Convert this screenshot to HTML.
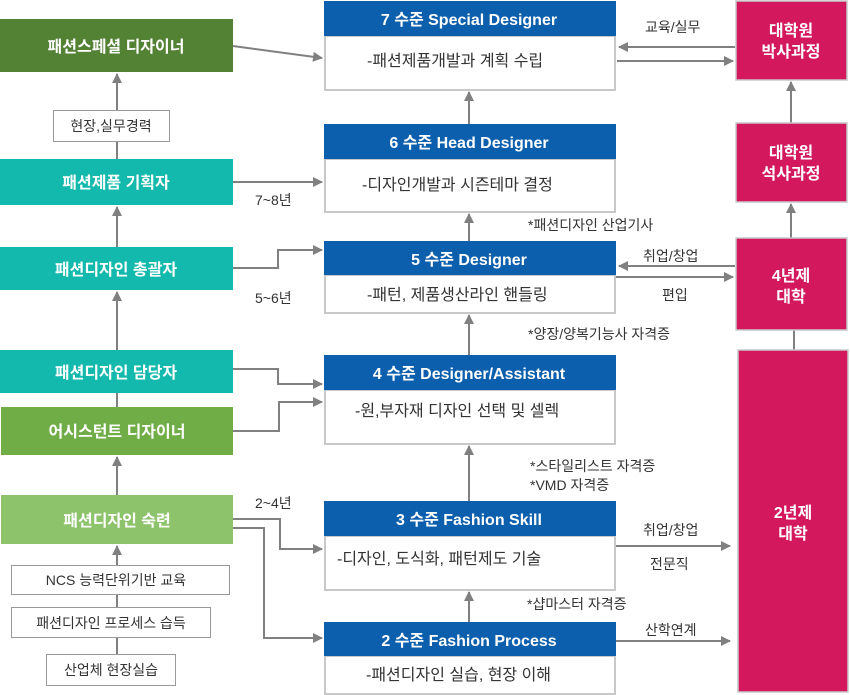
<!DOCTYPE html>
<html><head><meta charset="utf-8"><style>
html,body{margin:0;padding:0;background:#fff;}
svg{display:block;font-family:"Liberation Sans","Noto Sans CJK KR",sans-serif;}
</style></head><body>
<svg width="850" height="695" viewBox="0 0 850 695" xmlns="http://www.w3.org/2000/svg">
<defs><marker id="a" markerWidth="10" markerHeight="10" refX="9" refY="5" orient="auto" markerUnits="userSpaceOnUse"><path d="M0,0 L10,5 L0,10 z" fill="#808080"/></marker></defs>
<g stroke="#808080" stroke-width="2" fill="none">
<line x1="233" y1="46" x2="322" y2="58" marker-end="url(#a)"/>
<line x1="233" y1="182" x2="322" y2="182" marker-end="url(#a)"/>
<polyline points="233,268 278,268 278,250 322,250" marker-end="url(#a)"/>
<polyline points="233,369 278,369 278,384 322,384" marker-end="url(#a)"/>
<polyline points="233,431 279,431 279,402 322,402" marker-end="url(#a)"/>
<polyline points="233,519 280,519 280,549 322,549" marker-end="url(#a)"/>
<polyline points="233,528 264,528 264,638 322,638" marker-end="url(#a)"/>
<line x1="117" y1="110" x2="117" y2="74" marker-end="url(#a)"/>
<line x1="117" y1="141" x2="117" y2="159"/>
<line x1="117" y1="247" x2="117" y2="207" marker-end="url(#a)"/>
<line x1="117" y1="350" x2="117" y2="292" marker-end="url(#a)"/>
<line x1="117" y1="393" x2="117" y2="407"/>
<line x1="117" y1="495" x2="117" y2="457" marker-end="url(#a)"/>
<line x1="117" y1="565" x2="117" y2="546" marker-end="url(#a)"/>
<line x1="117" y1="594" x2="117" y2="607"/>
<line x1="117" y1="637" x2="117" y2="654"/>
<line x1="469" y1="124" x2="469" y2="92" marker-end="url(#a)"/>
<line x1="469" y1="241" x2="469" y2="214" marker-end="url(#a)"/>
<line x1="469" y1="355" x2="469" y2="315" marker-end="url(#a)"/>
<line x1="469" y1="501" x2="469" y2="446" marker-end="url(#a)"/>
<line x1="469" y1="622" x2="469" y2="592" marker-end="url(#a)"/>
<line x1="735" y1="47" x2="619" y2="47" marker-end="url(#a)"/>
<line x1="617" y1="61" x2="733" y2="61" marker-end="url(#a)"/>
<line x1="735" y1="266" x2="619" y2="266" marker-end="url(#a)"/>
<line x1="615" y1="277" x2="733" y2="277" marker-end="url(#a)"/>
<line x1="615" y1="546" x2="730" y2="546" marker-end="url(#a)"/>
<line x1="610" y1="641" x2="730" y2="641" marker-end="url(#a)"/>
<line x1="791" y1="123" x2="791" y2="82" marker-end="url(#a)"/>
<line x1="791" y1="238" x2="791" y2="204" marker-end="url(#a)"/>
<line x1="794" y1="330" x2="794" y2="350"/>
</g>
<g font-size="16" font-weight="bold" fill="#fff" text-anchor="middle">
<rect x="0" y="19" width="233" height="53" fill="#548235"/><text x="116" y="52">패션스페셜 디자이너</text>
<rect x="0" y="159" width="233" height="46" fill="#13B9AC"/><text x="116" y="188">패션제품 기획자</text>
<rect x="0" y="247" width="233" height="43" fill="#13B9AC"/><text x="116" y="275">패션디자인 총괄자</text>
<rect x="0" y="350" width="233" height="43" fill="#13B9AC"/><text x="116" y="378">패션디자인 담당자</text>
<rect x="1" y="407" width="232" height="48" fill="#70AD47"/><text x="117" y="437">어시스턴트 디자이너</text>
<rect x="1" y="495" width="232" height="49" fill="#8DC36B"/><text x="117" y="526">패션디자인 숙련</text>
</g>
<g font-size="14" fill="#333" text-anchor="middle" stroke-width="1">
<rect x="53.5" y="110.5" width="116" height="31" fill="#fff" stroke="#999"/><text x="111" y="131">현장,실무경력</text>
<rect x="11.5" y="565.5" width="218" height="29" fill="#fff" stroke="#999"/><text x="116" y="585">NCS 능력단위기반 교육</text>
<rect x="11.5" y="607.5" width="199" height="30" fill="#fff" stroke="#999"/><text x="111" y="628">패션디자인 프로세스 습득</text>
<rect x="46.5" y="654.5" width="129" height="31" fill="#fff" stroke="#999"/><text x="111" y="675">산업체 현장실습</text>
</g>
<g stroke="#c8c8c8" stroke-width="2" fill="#fff">
<rect x="325" y="36" width="290" height="54"/>
<rect x="325" y="159" width="290" height="53"/>
<rect x="325" y="275" width="290" height="38"/>
<rect x="325" y="390" width="290" height="54"/>
<rect x="325" y="536" width="290" height="54"/>
<rect x="325" y="656" width="290" height="38"/>
</g>
<g fill="#0C5FAD">
<rect x="324" y="1" width="292" height="35"/>
<rect x="324" y="124" width="292" height="35"/>
<rect x="324" y="241" width="292" height="34"/>
<rect x="324" y="355" width="292" height="35"/>
<rect x="324" y="501" width="292" height="35"/>
<rect x="324" y="622" width="292" height="34"/>
</g>
<g font-size="16" font-weight="bold" fill="#fff" text-anchor="middle">
<text x="469" y="25">7 수준 Special Designer</text>
<text x="469" y="148">6 수준 Head Designer</text>
<text x="469" y="265">5 수준 Designer</text>
<text x="469" y="379">4 수준 Designer/Assistant</text>
<text x="469" y="525">3 수준 Fashion  Skill</text>
<text x="469" y="646">2 수준  Fashion Process</text>
</g>
<g font-size="16" fill="#333">
<text x="367" y="66">-패션제품개발과  계획 수립</text>
<text x="362" y="190">-디자인개발과 시즌테마 결정</text>
<text x="367" y="300">-패턴, 제품생산라인 핸들링</text>
<text x="355" y="416">-원,부자재 디자인 선택 및 셀렉</text>
<text x="337" y="564">-디자인, 도식화, 패턴제도 기술</text>
<text x="366" y="680">-패션디자인 실습, 현장 이해</text>
</g>
<g fill="#D4185E" stroke="#c8c8c8" stroke-width="1.5">
<rect x="736" y="1" width="111" height="79"/>
<rect x="736" y="123" width="111" height="79"/>
<rect x="736" y="238" width="111" height="92"/>
<rect x="738" y="350" width="110" height="342"/>
</g>
<g font-size="16" font-weight="bold" fill="#fff" text-anchor="middle">
<text x="791" y="36">대학원</text><text x="791" y="57">박사과정</text>
<text x="791" y="158">대학원</text><text x="791" y="179">석사과정</text>
<text x="791" y="281">4년제</text><text x="791" y="302">대학</text>
<text x="793" y="518">2년제</text><text x="793" y="539">대학</text>
</g>
<g font-size="14" fill="#333">
<text x="255" y="205">7~8년</text>
<text x="255" y="303">5~6년</text>
<text x="255" y="508">2~4년</text>
<text x="528" y="230">*패션디자인 산업기사</text>
<text x="528" y="339">*양장/양복기능사 자격증</text>
<text x="530" y="471">*스타일리스트 자격증</text>
<text x="530" y="490">*VMD 자격증</text>
<text x="527" y="609">*샵마스터 자격증</text>
<text x="645" y="32">교육/실무</text>
<text x="643" y="261">취업/창업</text>
<text x="662" y="300">편입</text>
<text x="643" y="535">취업/창업</text>
<text x="650" y="569">전문직</text>
<text x="645" y="635">산학연계</text>
</g>
</svg>
</body></html>
